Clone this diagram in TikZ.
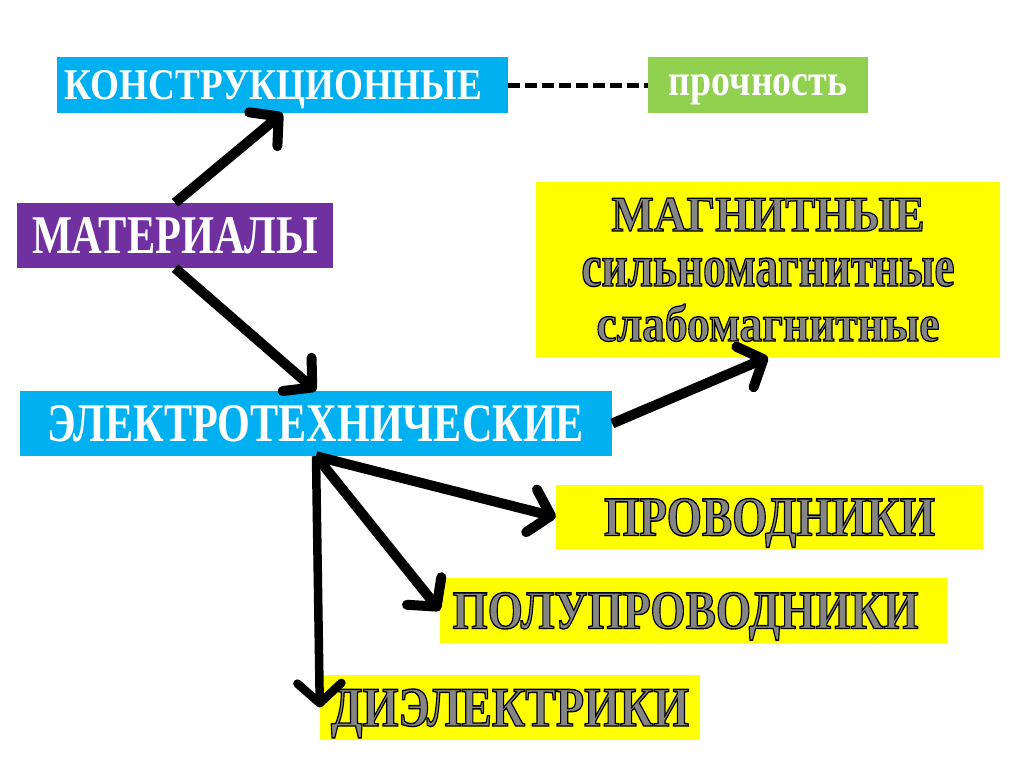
\documentclass[tikz,border=0pt]{standalone}
\usepackage{fontspec}
\setmainfont{Liberation Serif}
\newfontfamily\gfont[FakeBold=2.5]{Liberation Serif Bold}
\usepackage{graphicx}
\usetikzlibrary{arrows.meta}
\definecolor{cblue}{HTML}{00B0F0}
\definecolor{cgreen}{HTML}{92D050}
\definecolor{cpurple}{HTML}{7030A0}
\definecolor{cyellow}{HTML}{FFFF00}
\definecolor{cgrey}{HTML}{858585}
% fit text to width x height (height above baseline), depth removed
\newcommand\fitbox[3]{\raisebox{0pt}[\height][0pt]{\resizebox{#1pt}{#2pt}{#3}}}
% white text
\newcommand\wtext[1]{\textcolor{white}{#1}}
% grey text with a dark outline (fill grey, stroke black)
\newcommand\gtext[1]{{\gfont\color{cgrey}\special{pdf:literal direct 0 G}#1}}
\tikzset{
  box/.style={rectangle, draw=none, inner sep=0pt, font=\bfseries},
  arr/.style={line width=10pt, -{Straight Barb[length=20pt,width=44pt,round]}},
  dashline/.style={line width=5pt, dash pattern=on 12pt off 5pt},
}
\begin{document}
\begin{tikzpicture}[x=1pt,y=-1pt]
\useasboundingbox[fill=white] (0,0) rectangle (1024,768);
\node[box, fill=cblue, minimum width=451pt, minimum height=56pt] (kon) at (282.5,85)
  {\hspace{-18pt}\fitbox{417}{29}{\wtext{КОНСТРУКЦИОННЫЕ}}};
\node[box, fill=cgreen, minimum width=220pt, minimum height=56pt] (pro) at (758,85)
  {\fitbox{178}{21}{\wtext{прочность}}};
\node[box, fill=cpurple, minimum width=316pt, minimum height=65pt] (mat) at (175,235.5)
  {\fitbox{286}{36}{\wtext{МАТЕРИАЛЫ}}};
\node[box, fill=cblue, minimum width=592pt, minimum height=65pt] (ele) at (316,423.5)
  {\fitbox{536}{36}{\wtext{ЭЛЕКТРОТЕХНИЧЕСКИЕ}}};
\node[box, fill=cyellow, minimum width=464pt, minimum height=175pt, align=center,
  font=\bfseries\fontsize{10}{55}\selectfont] (mag) at (768,269.5)
  {\fitbox{313}{33}{\gtext{МАГНИТНЫЕ}}\\
   \fitbox{373}{28}{\gtext{сильномагнитные}}\\
   \fitbox{343}{37}{\gtext{слабомагнитные}}};
\node[box, fill=cyellow, minimum width=427pt, minimum height=64pt] (prv) at (769.5,517)
  {\fitbox{331}{37}{\gtext{ПРОВОДНИКИ}}};
\node[box, fill=cyellow, minimum width=507pt, minimum height=65pt] (pol) at (693.5,610.5)
  {\hspace{-16pt}\fitbox{466}{36}{\gtext{ПОЛУПРОВОДНИКИ}}};
\node[box, fill=cyellow, minimum width=380pt, minimum height=65pt] (die) at (510,707.5)
  {\fitbox{358}{37}{\gtext{ДИЭЛЕКТРИКИ}}};
\draw[dashline] (kon.east) -- (pro.west);
\draw[arr] (mat.north) -- (kon.south);
\draw[arr] (mat.south) -- (ele.north);
\draw[arr] (ele.east) -- (mag.south);
\draw[arr] (ele.south) -- (prv.west);
\draw[arr] (ele.south) -- (pol.west);
\draw[arr, line width=8.5pt] (ele.south) -- (die.west);
\end{tikzpicture}
\end{document}
